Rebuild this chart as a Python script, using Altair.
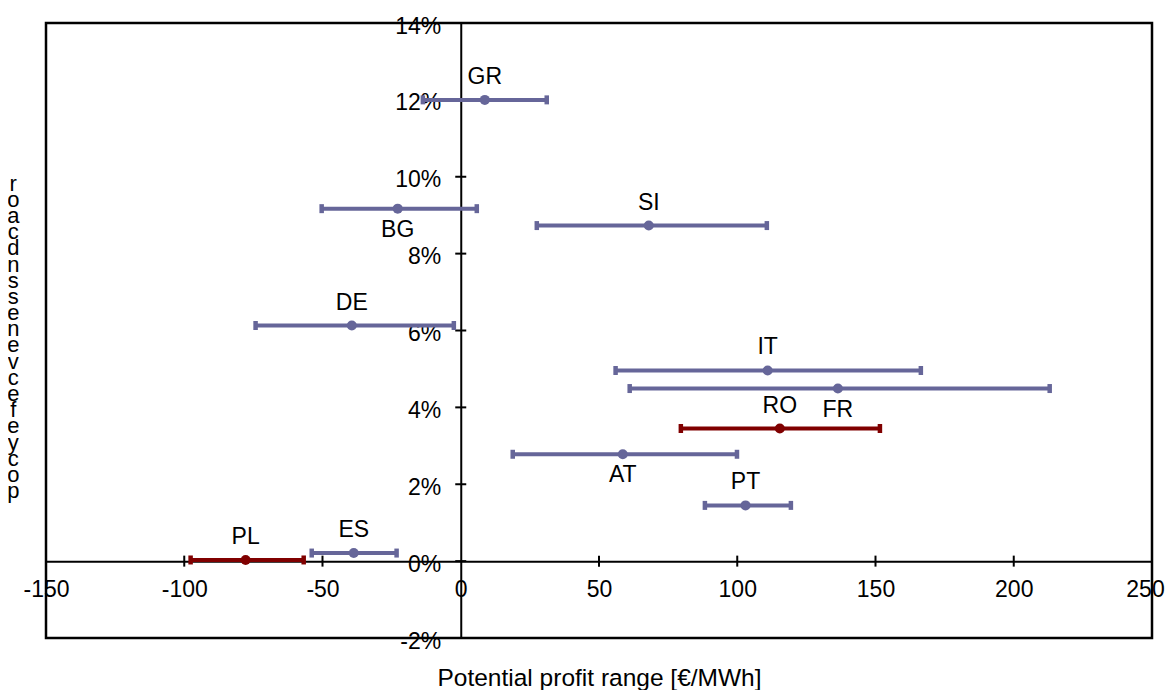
import altair as alt
import pandas as pd

# ---- data ----
countries = ["GR", "BG", "SI", "DE", "IT", "FR", "RO", "AT", "PT", "ES", "PL"]
share = [0.120, 0.0917, 0.0873, 0.0613, 0.0496, 0.0449, 0.0345, 0.0278, 0.0145, 0.0021, 0.0003]
mid = [8.7, -22.8, 68.0, -39.4, 111.0, 136.4, 115.4, 58.6, 103.0, -38.7, -77.8]
low = [-13.7, -50.3, 27.5, -74.2, 56.0, 61.1, 79.6, 18.8, 88.3, -53.9, -97.7]
high = [31.1, 5.8, 110.7, -2.5, 166.4, 213.0, 151.6, 99.9, 119.4, -23.2, -56.8]
group = ["other", "other", "other", "other", "other", "other", "highlight",
         "other", "other", "other", "highlight"]
label_side = ["above", "below", "above", "above", "above", "below", "above",
              "below", "above", "above", "above"]

x_ticks = [-150, -100, -50, 0, 50, 100, 150, 200, 250]
y_ticks = [-0.02, 0.0, 0.02, 0.04, 0.06, 0.08, 0.10, 0.12, 0.14]
x_cross_ticks = [-100, -50, 50, 100, 150, 200]
y_cross_ticks = [0.0, 0.02, 0.04, 0.06, 0.08, 0.10, 0.12, 0.14]
y_title_chars = ["r", "o", "a", "c", "d", "n", "s", "s", "e", "n", "e", "v",
                 "c", "e", "f", "e", "y", "c", "o", "p"]

df = pd.DataFrame({"country": countries, "share": share, "mid": mid, "low": low,
                   "high": high, "group": group, "side": label_side})
xt = pd.DataFrame({"xv": x_cross_ticks, "yv": [0.0] * len(x_cross_ticks)})
yt = pd.DataFrame({"xv": [0.0] * len(y_cross_ticks), "yv": y_cross_ticks})

W, H = 1106, 615
XMIN, XMAX = -150, 250
YMIN, YMAX = -0.02, 0.14
FONT = "Liberation Sans"

x_scale = alt.Scale(domain=[XMIN, XMAX], nice=False, zero=False)
y_scale = alt.Scale(domain=[YMIN, YMAX], nice=False, zero=False)

x_axis = alt.Axis(values=x_ticks, offset=-H * (0 - YMIN) / (YMAX - YMIN),
                  labelExpr="datum.value + ''",
                  labelOffset=alt.ConditionalAxisNumber(
                      condition={"test": f"datum.value == {XMAX}", "value": -7},
                      value=0),
                  ticks=False, tickSize=0, grid=False, labelFlush=False,
                  labelOverlap=False, labelPadding=17, labelFontSize=23,
                  labelFont=FONT, labelColor="black", domainColor="black",
                  domainWidth=2, title="Potential profit range [€/MWh]",
                  titleFont=FONT, titleFontSize=24.5, titleFontWeight="normal",
                  titleColor="black", titlePadding=65)
y_axis = alt.Axis(values=y_ticks,
                  labelExpr="round(datum.value * 100) + '%'",
                  offset=-W * (0 - XMIN) / (XMAX - XMIN),
                  ticks=False, tickSize=0, grid=False, labelFlush=False,
                  labelOverlap=False, labelPadding=20, labelFontSize=23,
                  labelFont=FONT, labelColor="black", labelOffset=3,
                  domainColor="black", domainWidth=2,
                  title=y_title_chars, titleAngle=0, titleAlign="center",
                  titleBaseline="top", titleX=-448, titleY=150,
                  titleFont=FONT, titleFontSize=22, titleFontWeight="normal",
                  titleColor="black", titleLineHeight=16.2)


def X(field):
    return alt.X(field, type="quantitative", scale=x_scale, axis=x_axis)


def Y(field):
    return alt.Y(field, type="quantitative", scale=y_scale, axis=y_axis)


color = alt.Color("group:N", scale=alt.Scale(domain=["other", "highlight"],
                                             range=["#666699", "#800000"]),
                  legend=None)

base = alt.Chart(df)

bars = base.mark_rule(strokeWidth=4).encode(x=X("low"), x2="high", y=Y("share"), color=color)

caps = base.transform_fold(["low", "high"], as_=["end", "xe"]).mark_tick(
    orient="vertical", size=9, thickness=4.5, opacity=1
).encode(x=X("xe"), y=Y("share"), color=color)

dots = base.mark_circle(size=100, opacity=1).encode(x=X("mid"), y=Y("share"), color=color)

lab_above = base.transform_filter(alt.datum.side == "above").mark_text(
    dy=-23, fontSize=23, font=FONT, color="black"
).encode(x=X("mid"), y=Y("share"), text="country")

lab_below = base.transform_filter(alt.datum.side == "below").mark_text(
    dy=21, fontSize=23, font=FONT, color="black"
).encode(x=X("mid"), y=Y("share"), text="country")

xcross = alt.Chart(xt).mark_tick(orient="vertical", size=11, thickness=2, color="black",
                                 opacity=1).encode(x=X("xv"), y=Y("yv"))
ycross = alt.Chart(yt).mark_tick(orient="horizontal", size=11, thickness=2, color="black",
                                 opacity=1).encode(x=X("xv"), y=Y("yv"))

chart = alt.layer(xcross, ycross, bars, caps, dots, lab_above, lab_below).properties(
    width=W, height=H,
    autosize=alt.AutoSizeParams(type="none"),
    padding={"left": 38, "top": 15, "right": 14, "bottom": 52},
).configure_view(stroke="black", strokeWidth=2.5)

chart.save("out.html", embed_options={"renderer": "svg", "actions": False})
